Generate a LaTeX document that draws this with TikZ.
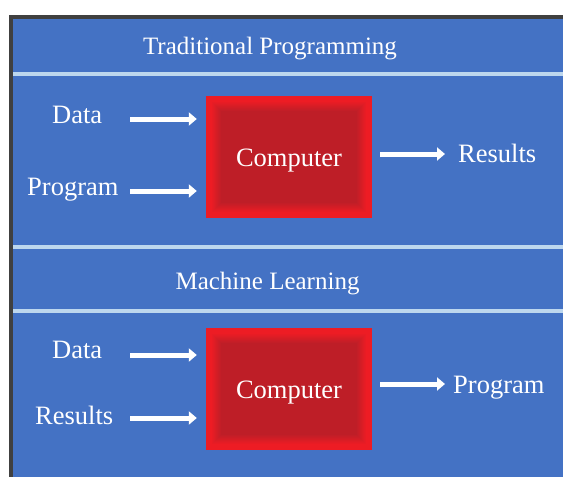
\documentclass[tikz,border=0pt]{standalone}
\usepackage{fontspec}
\setmainfont{Liberation Serif}
\usepackage{tikz}
\usetikzlibrary{arrows.meta}
\usetikzlibrary{positioning}
\definecolor{fond}{RGB}{68,114,196}
\definecolor{trait}{RGB}{189,215,238}
\definecolor{cadre}{RGB}{64,64,64}
\definecolor{rouge}{RGB}{237,28,36}
\definecolor{sombre}{RGB}{190,30,39}
\tikzstyle{titre}=[text=white,anchor=base,inner sep=0pt,font=\fontsize{25}{30}\selectfont]
\tikzstyle{etiquette}=[text=white,anchor=base west,inner sep=0pt,font=\fontsize{26.5}{32}\selectfont]
\tikzstyle{boite}=[rectangle,minimum width=166pt,minimum height=122pt,inner sep=0pt,
text=white,font=\fontsize{26.5}{32}\selectfont]
\tikzstyle{fleche}=[-{Triangle[length=8pt,width=13pt]},white,line width=5pt]

\begin{document}
\begin{tikzpicture}[x=1pt,y=-1pt]
\useasboundingbox (0,0) rectangle (563,477);
\fill[white] (0,0) rectangle (563,477);
\fill[cadre] (9,15) rectangle (563,477);
\fill[fond] (13,19) rectangle (563,477);
\fill[trait] (13,72) rectangle (563,76);
\fill[trait] (13,245) rectangle (563,249);
\fill[trait] (13,308.5) rectangle (563,312.5);
%Titres
\node[titre] (t1) at (270,54) {Traditional Programming};
\node[titre] (t2) at (267.5,289) {Machine Learning};
%Boites
\foreach \y in {96,328}{
  \foreach \i in {0,...,15}{
    \pgfmathsetmacro\p{\i<6 ? 100 : max(0,100-(\i-5)*10)}
    \fill[rouge!\p!sombre] (206+\i,\y+\i) rectangle (372-\i,\y+122-\i);
  }
}
\node[boite] (c1) at (289,157) {};
\node[boite] (c2) at (289,389) {};
\node[titre,font=\fontsize{26.5}{32}\selectfont] (m1) at (289,166) {Computer};
\node[titre,font=\fontsize{26.5}{32}\selectfont] (m2) at (289,398) {Computer};
%Etiquettes
\node[etiquette] (d1) at (52,123) {Data};
\node[etiquette] (p1) at (27,195) {Program};
\node[etiquette] (r1) at (458,162) {Results};
\node[etiquette] (d2) at (52,358) {Data};
\node[etiquette] (r2) at (35,424) {Results};
\node[etiquette] (p2) at (453,393) {Program};
%Fleches
\coordinate (a1) at (130,119);
\coordinate (a2) at (130,191);
\coordinate (a3) at (445,154);
\coordinate (b1) at (130,355);
\coordinate (b2) at (130,418);
\coordinate (b3) at (445,384);
\draw[fleche,shorten >=9pt] (a1) -- (a1 -| c1.west);
\draw[fleche,shorten >=9pt] (a2) -- (a2 -| c1.west);
\draw[fleche,shorten <=8pt] (a3 -| c1.east) -- (a3);
\draw[fleche,shorten >=9pt] (b1) -- (b1 -| c2.west);
\draw[fleche,shorten >=9pt] (b2) -- (b2 -| c2.west);
\draw[fleche,shorten <=8pt] (b3 -| c2.east) -- (b3);
\end{tikzpicture}
\end{document}
